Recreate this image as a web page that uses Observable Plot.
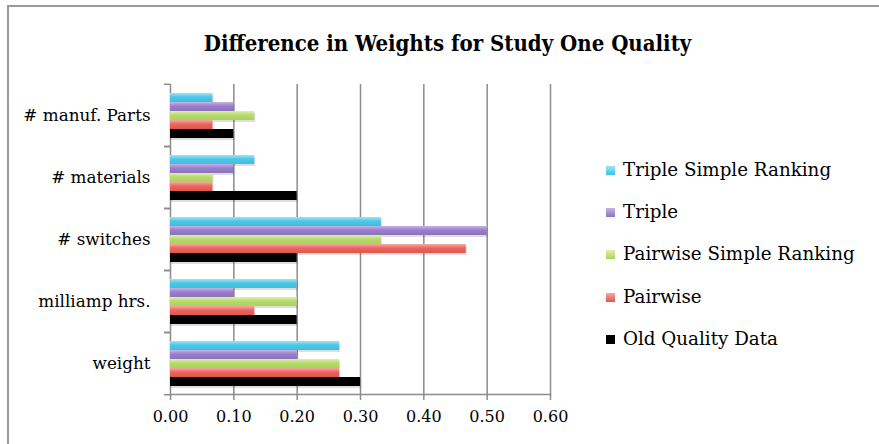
<!DOCTYPE html>
<html>
<head>
<meta charset="utf-8">
<script src="https://cdn.jsdelivr.net/npm/d3@7"></script>
<script src="https://cdn.jsdelivr.net/npm/@observablehq/plot@0.6"></script>
<style>
  html, body { margin: 0; padding: 0; background: #fff; }
  #wrap { position: relative; width: 879px; height: 444px; overflow: hidden; background: #fff; }
  #border { position: absolute; left: 7px; top: 5px; width: 900px; height: 500px; border-left: 2px solid #9a9a9a; border-top: 2px solid #9a9a9a; box-sizing: border-box; }
  #title { position: absolute; left: 0; top: 30px; width: 895px; text-align: center; font-family: "DejaVu Serif Condensed", "DejaVu Serif", serif; font-stretch: condensed; font-weight: bold; font-size: 22px; color: #000; }
  #chart { position: absolute; left: 0; top: 0; }
  #legend { position: absolute; left: 606px; top: 148px; font-family: "DejaVu Serif", serif; font-size: 18.3px; color: #000; }
  .item { display: flex; align-items: center; height: 42.3px; white-space: nowrap; }
  .sw { width: 9px; height: 9px; margin-right: 8px; margin-top: 2px; flex: none; }
</style>
</head>
<body>
<div id="wrap">
  <div id="border"></div>
  <div id="title">Difference in Weights for Study One Quality</div>
  <div id="chart"></div>
  <div id="legend"></div>
</div>
<script>
// ---- data ----
const categories = ["# manuf. Parts", "# materials", "# switches", "milliamp hrs.", "weight"];
const seriesNames = ["Triple Simple Ranking", "Triple", "Pairwise Simple Ranking", "Pairwise", "Old Quality Data"];
const tripleSimpleRanking   = [0.067, 0.133, 0.333, 0.200, 0.267];
const triple                = [0.100, 0.100, 0.500, 0.100, 0.200];
const pairwiseSimpleRanking = [0.133, 0.067, 0.333, 0.200, 0.267];
const pairwise              = [0.067, 0.067, 0.467, 0.133, 0.267];
const oldQualityData        = [0.100, 0.200, 0.200, 0.200, 0.300];
const xTicks = [0, 0.1, 0.2, 0.3, 0.4, 0.5, 0.6];

// ---- styles ----
const colorsTop    = ["#9be6f7", "#c6b2e6", "#dcf2a8", "#f7aaa3", "#000000"];
const colorsBottom = ["#3dbfdf", "#8c71bf", "#a9d35c", "#e0554c", "#000000"];
const swatch       = ["#4ec7e6", "#9a80c9", "#b7da6c", "#e8675e", "#000000"];
const gray = "#8c8c8c";

const valueSets = [tripleSimpleRanking, triple, pairwiseSimpleRanking, pairwise, oldQualityData];
const rows = [];
seriesNames.forEach((s, i) => {
  categories.forEach((c, j) => rows.push({series: s, category: c, value: valueSets[i][j]}));
});

const band = (444 - 83 - 49) / categories.length;

const plot = Plot.plot({
  width: 879,
  height: 444,
  marginLeft: 170,
  marginRight: 329,
  marginTop: 83,
  marginBottom: 49,
  style: {fontFamily: "DejaVu Serif, serif", fontSize: "15px", color: "#000", background: "transparent", overflow: "visible"},
  x: {domain: [0, 0.6], axis: null, label: null},
  y: {domain: seriesNames, paddingInner: 0, paddingOuter: 0.68, axis: null, label: null},
  fy: {domain: categories, padding: 0, axis: null, label: null},
  color: {domain: seriesNames, range: seriesNames.map((s, i) => `url(#grad${i})`)},
  marks: [
    Plot.gridX(xTicks, {stroke: gray, strokeOpacity: 1, strokeWidth: 1.5}),
    Plot.barX(rows, {fy: "category", y: "series", x: "value", fill: "#000", fillOpacity: 0.13, dx: 1, dy: 2}),
    Plot.barX(rows, {fy: "category", y: "series", x: "value", fill: "series"}),
    Plot.frame({anchor: "bottom", facetAnchor: "bottom", stroke: gray, strokeWidth: 1.5}),
    Plot.axisX({ticks: xTicks, tickFormat: d => d.toFixed(2), tickSize: 6, tickPadding: 10, stroke: gray, strokeWidth: 1.5, fill: "#000", fontSize: 16, label: null}),
    Plot.axisFy({anchor: "left", tickSize: 0, tickPadding: 20, fill: "#000", fontSize: 16.8, label: null}),
    Plot.axisFy({anchor: "left", tickSize: 6, tickFormat: () => "", dy: -band / 2, stroke: gray, strokeWidth: 1.5, label: null}),
    Plot.axisFy({anchor: "left", tickSize: 6, tickFormat: () => "", dy: band / 2, stroke: gray, strokeWidth: 1.5, label: null})
  ]
});

// gradients for bar shading
const NS = "http://www.w3.org/2000/svg";
const defs = document.createElementNS(NS, "defs");
seriesNames.forEach((s, i) => {
  const g = document.createElementNS(NS, "linearGradient");
  g.setAttribute("id", `grad${i}`);
  g.setAttribute("x1", "0"); g.setAttribute("y1", "0");
  g.setAttribute("x2", "0"); g.setAttribute("y2", "1");
  [[0, colorsTop[i]], [0.45, swatch[i]], [1, colorsBottom[i]]].forEach(([o, c]) => {
    const st = document.createElementNS(NS, "stop");
    st.setAttribute("offset", o);
    st.setAttribute("stop-color", c);
    g.appendChild(st);
  });
  defs.appendChild(g);
});
plot.insertBefore(defs, plot.firstChild);
document.getElementById("chart").appendChild(plot);

// legend
const legend = document.getElementById("legend");
seriesNames.forEach((s, i) => {
  const item = document.createElement("div");
  item.className = "item";
  const sw = document.createElement("span");
  sw.className = "sw";
  sw.style.background = `linear-gradient(${colorsTop[i]}, ${colorsBottom[i]})`;
  const label = document.createElement("span");
  label.textContent = s;
  item.appendChild(sw);
  item.appendChild(label);
  legend.appendChild(item);
});
</script>
</body>
</html>
